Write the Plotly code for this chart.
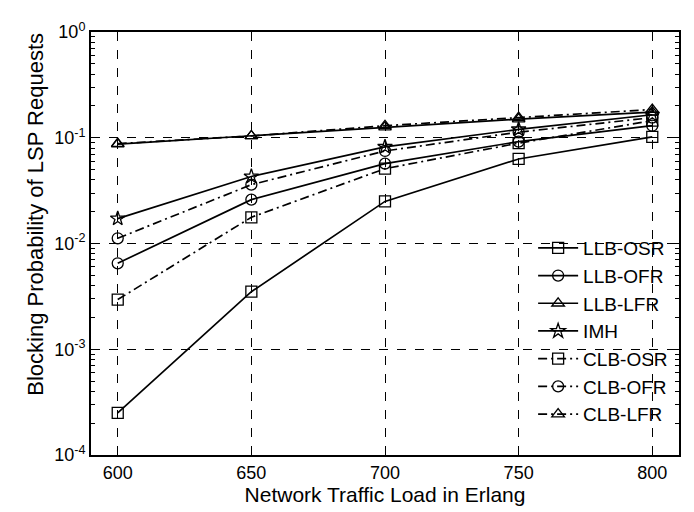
import plotly.graph_objects as go

load = [600, 650, 700, 750, 800]
llb_osr = [2.5e-4, 3.5e-3, 0.025, 0.063, 0.102]
llb_ofr = [6.5e-3, 0.026, 0.057, 0.092, 0.13]
llb_lfr = [0.087, 0.104, 0.126, 0.15, 0.175]
imh = [0.0172, 0.043, 0.082, 0.12, 0.165]
clb_osr = [2.95e-3, 0.0177, 0.051, 0.089, 0.145]
clb_ofr = [0.0112, 0.036, 0.075, 0.113, 0.155]
clb_lfr = [0.088, 0.104, 0.13, 0.155, 0.185]

y_tickvals = [1e-4, 1e-3, 1e-2, 1e-1, 1]
y_ticktext = ["10<sup>-4</sup>", "10<sup>-3</sup>", "10<sup>-2</sup>", "10<sup>-1</sup>", "10<sup>0</sup>"]
x_tickvals = [600, 650, 700, 750, 800]

dashdot = "9px,4px,2px,4px"
series = [
    ("LLB-OSR", llb_osr, "square-open", "solid"),
    ("LLB-OFR", llb_ofr, "circle-open", "solid"),
    ("LLB-LFR", llb_lfr, "triangle-up-open", "solid"),
    ("IMH", imh, "star-open", "solid"),
    ("CLB-OSR", clb_osr, "square-open", dashdot),
    ("CLB-OFR", clb_ofr, "circle-open", dashdot),
    ("CLB-LFR", clb_lfr, "triangle-up-open", dashdot),
]

fig = go.Figure()
for name, vals, sym, dash in series:
    fig.add_trace(go.Scatter(
        x=load, y=vals, name=name, mode="lines+markers",
        line=dict(color="black", width=1.7, dash=dash),
        marker=dict(symbol=sym, size=11, color="black", line=dict(width=1.3, color="black")),
    ))

font = "Liberation Sans, Arial, sans-serif"
fig.update_layout(
    width=694, height=512,
    margin=dict(l=83, r=23, t=12, b=65),
    paper_bgcolor="white", plot_bgcolor="white",
    font=dict(family=font, size=18, color="black"),
    legend=dict(x=0.99, xanchor="right", y=0.052, yanchor="bottom",
                bgcolor="rgba(0,0,0,0)", font=dict(size=19), tracegroupgap=0,
                itemwidth=40),
    showlegend=True,
)
fig.add_annotation(
    text="Blocking Probability of LSP Requests", textangle=-90,
    xref="paper", yref="paper", x=-0.0935, y=0.568,
    xanchor="center", yanchor="middle", showarrow=False,
    font=dict(size=22, family=font, color="black"),
)
fig.update_xaxes(
    range=[590, 810], tickvals=x_tickvals, ticks="inside", ticklen=7,
    tickcolor="black", showline=True, linecolor="black", linewidth=2, mirror="ticks",
    showgrid=True, gridcolor="black", griddash="dash", gridwidth=1,
    zeroline=False, tickfont=dict(size=18),
    title=dict(text="Network Traffic Load in Erlang", font=dict(size=21), standoff=2),
)
fig.update_yaxes(
    type="log", range=[-4, 0], tickvals=y_tickvals, ticktext=y_ticktext,
    ticks="inside", ticklen=7, tickcolor="black",
    showline=True, linecolor="black", linewidth=2, mirror="ticks",
    showgrid=True, gridcolor="black", griddash="dash", gridwidth=1,
    zeroline=False, tickfont=dict(size=18),
    minor=dict(ticks="inside", ticklen=4, tickcolor="black", showgrid=False,
               tickvals=[m * 10**e for e in range(-4, 0) for m in range(2, 10)]),
)
fig.write_html("out.html")
